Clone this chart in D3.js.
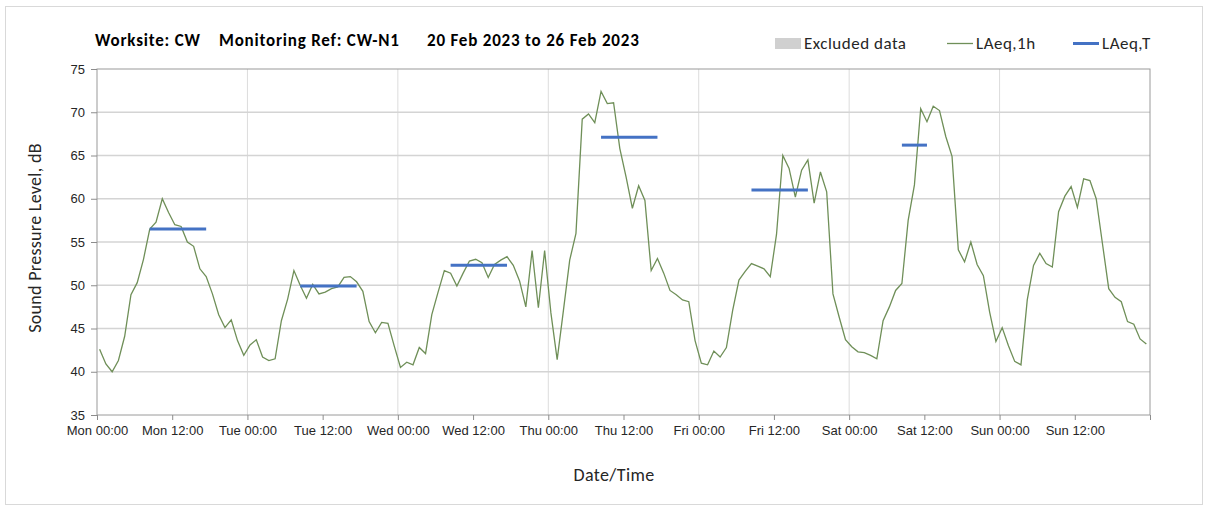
<!DOCTYPE html>
<html>
<head>
<meta charset="utf-8">
<script src="https://cdn.jsdelivr.net/npm/d3@7"></script>
<style>
  body { margin: 0; background: #fff; }
  svg { font-family: Carlito, Calibri, Lato, sans-serif; }
  .axis path, .axis line { stroke: #8c8c8c; }
  .axis text { fill: #262626; font-size: 13px; }
</style>
</head>
<body>
<div id="chart"></div>
<script>
// ---- data ----
const titleParts = ["Worksite: CW", "Monitoring Ref: CW-N1", "20 Feb 2023 to 26 Feb 2023"];
const firstReading = "2023-02-20 00:25";   // hourly LAeq,1h readings start here
const axisStart = "2023-02-20 00:00";
const axisEnd = "2023-02-27 00:00";

// LAeq,1h, one value per hour (Mon 00:25 .. Sun 23:25)
const laeq1h = [
  42.6, 40.9, 40.0, 41.3, 44.1, 48.9, 50.3, 53.0, 56.5, 57.3, 60.0, 58.4,
  57.0, 56.8, 55.0, 54.5, 51.9, 51.0, 49.0, 46.6, 45.1, 46.0, 43.6, 41.9,
  43.1, 43.7, 41.7, 41.3, 41.5, 45.9, 48.4, 51.7, 50.0, 48.5, 50.1, 49.0,
  49.2, 49.6, 49.8, 50.9, 51.0, 50.4, 49.3, 45.8, 44.5, 45.7, 45.6, 43.0,
  40.5, 41.1, 40.8, 42.8, 42.1, 46.6, 49.2, 51.7, 51.4, 49.9, 51.4, 52.8,
  53.0, 52.6, 50.9, 52.4, 52.9, 53.3, 52.3, 50.5, 47.5, 54.0, 47.4, 54.0,
  46.8, 41.4, 47.1, 52.9, 56.0, 69.2, 69.8, 68.8, 72.4, 71.0, 71.1, 65.8,
  62.5, 58.9, 61.5, 59.8, 51.7, 53.1, 51.4, 49.4, 48.9, 48.3, 48.1, 43.6,
  41.0, 40.8, 42.4, 41.7, 42.8, 47.1, 50.6, 51.6, 52.5, 52.2, 51.9, 51.0,
  55.9, 65.0, 63.5, 60.2, 63.3, 64.5, 59.5, 63.1, 60.8, 49.0, 46.3, 43.7,
  42.9, 42.3, 42.2, 41.9, 41.5, 45.9, 47.5, 49.4, 50.2, 57.5, 61.6, 70.4,
  68.9, 70.7, 70.2, 67.2, 64.9, 54.1, 52.7, 55.0, 52.4, 51.1, 46.9, 43.5,
  45.1, 43.0, 41.2, 40.8, 48.3, 52.3, 53.7, 52.5, 52.1, 58.5, 60.3, 61.4,
  59.0, 62.3, 62.1, 60.0, 54.8, 49.6, 48.6, 48.1, 45.8, 45.5, 43.8, 43.2
];

// LAeq,T over each daytime period
const periodStart = ["2023-02-20 08:25", "2023-02-21 08:25", "2023-02-22 08:25",
                     "2023-02-23 08:25", "2023-02-24 08:25", "2023-02-25 08:25"];
const periodEnd   = ["2023-02-20 17:25", "2023-02-21 17:25", "2023-02-22 17:25",
                     "2023-02-23 17:25", "2023-02-24 17:25", "2023-02-25 12:25"];
const periodValue = [56.5, 49.9, 52.3, 67.1, 61.0, 66.2];

const yTicks = [35, 40, 45, 50, 55, 60, 65, 70, 75];
const legendLabels = ["Excluded data", "LAeq,1h", "LAeq,T"];

// ---- chart ----
const W = 1208, H = 510;
const margin = {top: 69, right: 58, bottom: 95, left: 97};
const width = W - margin.left - margin.right;
const height = H - margin.top - margin.bottom;

const parse = d3.timeParse("%Y-%m-%d %H:%M");
const lineColor = "#6f8f58";
const blue = "#4472c4";

const svg = d3.select("#chart").append("svg")
    .attr("width", W)
    .attr("height", H);

// outer chart frame
svg.append("rect")
    .attr("x", 5.5).attr("y", 6.5)
    .attr("width", W - 11).attr("height", H - 12)
    .attr("fill", "none")
    .attr("stroke", "#d9d9d9");

const g = svg.append("g")
    .attr("transform", "translate(" + margin.left + "," + margin.top + ")");

const x = d3.scaleTime()
    .domain([parse(axisStart), parse(axisEnd)])
    .range([0, width]);

const y = d3.scaleLinear()
    .domain([35, 75])
    .range([height, 0]);

// gridlines
g.append("g").selectAll("line")
    .data(d3.timeDay.range(parse(axisStart), parse(axisEnd)).slice(1))
    .join("line")
    .attr("x1", d => x(d)).attr("x2", d => x(d))
    .attr("y1", 0).attr("y2", height)
    .attr("stroke", "#dcdcdc");

g.append("g").selectAll("line")
    .data(yTicks.slice(1, -1))
    .join("line")
    .attr("x1", 0).attr("x2", width)
    .attr("y1", d => y(d)).attr("y2", d => y(d))
    .attr("stroke", "#d4d4d4")
    .attr("stroke-width", 1.3);

// plot frame
g.append("rect")
    .attr("width", width).attr("height", height)
    .attr("fill", "none")
    .attr("stroke", "#9a9a9a");

// axes - labels every 12h, the closing Mon 00:00 gets a tick but no label
const xTickTimes = d3.timeHour.every(12).range(parse(axisStart), parse(axisEnd));
const fmt = d3.timeFormat("%a %H:%M");

const xAxis = d3.axisBottom(x)
    .tickValues(xTickTimes.concat([parse(axisEnd)]))
    .tickFormat(d => +d === +parse(axisEnd) ? "" : fmt(d))
    .tickSizeOuter(0)
    .tickSize(5)
    .tickPadding(6);

g.append("g")
    .attr("class", "x-axis axis")
    .attr("transform", "translate(0," + height + ")")
    .call(xAxis)
    .call(a => a.select(".domain").remove());

g.append("g")
    .attr("class", "y-axis axis")
    .call(d3.axisLeft(y).tickValues(yTicks).tickSize(6).tickPadding(6).tickSizeOuter(0))
    .call(a => a.select(".domain").remove());

// LAeq,1h line
const series = laeq1h.map((v, i) => ({t: d3.timeHour.offset(parse(firstReading), i), v: v}));

g.append("path")
    .datum(series)
    .attr("fill", "none")
    .attr("stroke", lineColor)
    .attr("stroke-width", 1.3)
    .attr("d", d3.line().x(d => x(d.t)).y(d => y(d.v)));

// LAeq,T segments
g.append("g").selectAll("line")
    .data(periodValue.map((v, i) => ({s: parse(periodStart[i]), e: parse(periodEnd[i]), v: v})))
    .join("line")
    .attr("x1", d => x(d.s)).attr("x2", d => x(d.e))
    .attr("y1", d => y(d.v)).attr("y2", d => y(d.v))
    .attr("stroke", blue)
    .attr("stroke-width", 3);

// title
const titleX = [95, 219, 427];
svg.append("g").selectAll("text")
    .data(titleParts)
    .join("text")
    .attr("x", (d, i) => titleX[i])
    .attr("y", 46)
    .attr("font-weight", "bold")
    .attr("font-size", "17px")
    .attr("letter-spacing", "0.8px")
    .attr("fill", "#000")
    .text(d => d);

// legend
const legend = svg.append("g")
    .attr("font-size", "17px")
    .attr("letter-spacing", "0.5px")
    .attr("fill", "#262626");
legend.append("rect")
    .attr("x", 775).attr("y", 38)
    .attr("width", 26).attr("height", 11)
    .attr("fill", "#d0d0d0");
legend.append("text").attr("x", 804).attr("y", 49).text(legendLabels[0]);
legend.append("line")
    .attr("x1", 947).attr("x2", 973).attr("y1", 43.5).attr("y2", 43.5)
    .attr("stroke", lineColor).attr("stroke-width", 1.3);
legend.append("text").attr("x", 976).attr("y", 49).text(legendLabels[1]);
legend.append("line")
    .attr("x1", 1073).attr("x2", 1099).attr("y1", 43.5).attr("y2", 43.5)
    .attr("stroke", blue).attr("stroke-width", 3);
legend.append("text").attr("x", 1102).attr("y", 49).text(legendLabels[2]);

// axis titles
svg.append("text")
    .attr("x", 614).attr("y", 481)
    .attr("text-anchor", "middle")
    .attr("font-size", "18px")
    .attr("letter-spacing", "0.4px")
    .attr("fill", "#262626")
    .text("Date/Time");

svg.append("text")
    .attr("transform", "translate(41,238) rotate(-90)")
    .attr("text-anchor", "middle")
    .attr("font-size", "18px")
    .attr("letter-spacing", "0.3px")
    .attr("fill", "#262626")
    .text("Sound Pressure Level, dB");
</script>
</body>
</html>
